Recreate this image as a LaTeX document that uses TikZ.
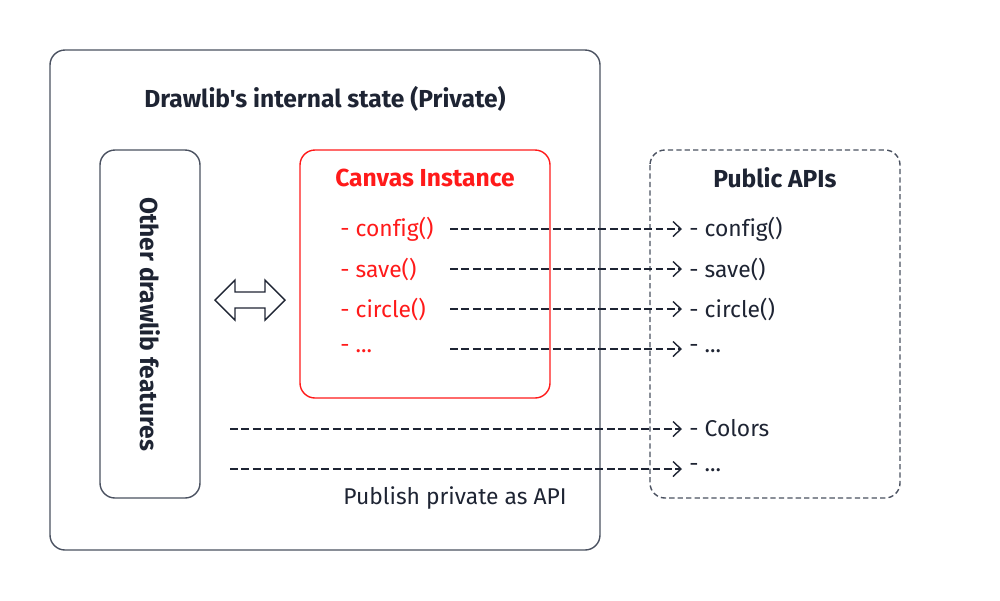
\documentclass[tikz,border=0pt]{standalone}
\usepackage{fontspec}
\setmainfont{Fira Sans}[Ligatures={TeXOff,NoCommon}]
\usetikzlibrary{arrows.meta}
\definecolor{ink}{HTML}{1E2433}
\definecolor{frame}{HTML}{4A5160}
\definecolor{canvasred}{HTML}{FF1A1A}

\begin{document}
\begin{tikzpicture}[x=0.02cm,y=-0.02cm,
    font=\fontsize{13}{15}\selectfont,
    box/.style={draw=frame,line width=0.8pt,rounded corners=0.3cm},
    title/.style={font=\fontsize{14}{16}\selectfont\bfseries,text=ink},
    item/.style={anchor=west,text=ink,inner sep=4pt},
    redItem/.style={anchor=west,text=canvasred,inner sep=0pt},
    publish/.style={draw=ink,line width=0.8pt,dash pattern=on 4.5pt off 2pt,-{Straight Barb[length=1.6mm,width=3mm]}}]
\useasboundingbox (0,0) rectangle (1000,600);

% boxes
\draw[box] (50,50) rectangle (600,550);
\draw[box] (100,150) rectangle (200,498);
\draw[box,draw=canvasred] (300,150) rectangle (550,398);
\draw[box,dash pattern=on 3pt off 1.8pt] (650,150) rectangle (900,498);

\node[title] (state) at (325,99) {Drawlib's internal state (Private)};
\node[title,rotate=-90] (other) at (150,324) {Other drawlib features};
\node[title,text=canvasred] (canvas) at (425,178) {Canvas Instance};
\node[title] (public) at (775,178) {Public APIs};

% double arrow between features and canvas
\draw[draw=ink,line width=0.8pt] (215,300) -- (235,280) -- (235,292) -- (265,292) -- (265,280)
    -- (285,300) -- (265,320) -- (265,308) -- (235,308) -- (235,320) -- cycle;

% canvas methods
\node[redItem] (c1) at (340,229) {- config()};
\node[redItem] (c2) at (340,269) {- save()};
\node[redItem] (c3) at (340,309) {- circle()};
\node[redItem] (c4) at (340,349) {- ...};

% public methods
\node[item] (p1) at (682,229) {- config()};
\node[item] (p2) at (682,269) {- save()};
\node[item] (p3) at (682,309) {- circle()};
\node[item] (p4) at (682,349) {- ...};
\node[item] (p5) at (682,428) {- Colors};
\node[item] (p6) at (682,468) {- ...};

\coordinate (s1) at (450,229);
\coordinate (s2) at (450,269);
\coordinate (s3) at (450,309);
\coordinate (s4) at (450,349);
\coordinate (s5) at (230,429);
\coordinate (s6) at (230,469);

\foreach \i in {1,...,6}
    \draw[publish] (s\i) -- (p\i.west |- s\i);

\node[text=ink] (note) at (455,498) {Publish private as API};
\end{tikzpicture}
\end{document}
